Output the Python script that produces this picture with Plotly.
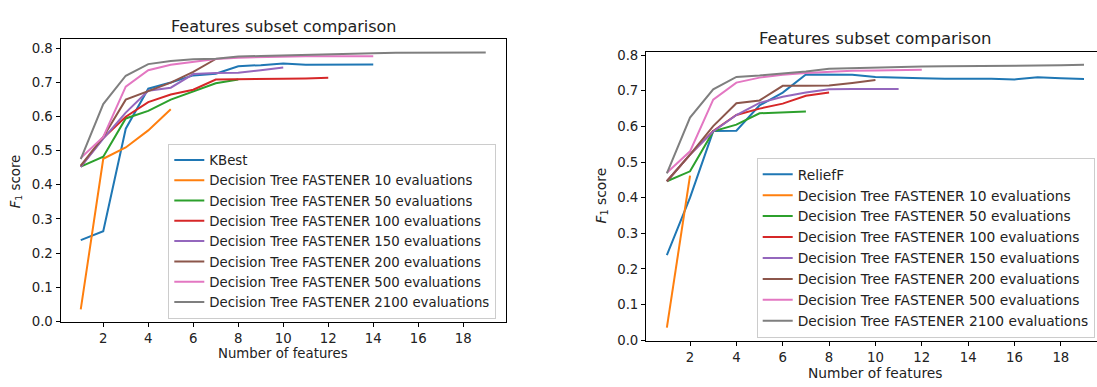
import plotly.graph_objects as go

W, H = 1097, 387

# ---------------- data ----------------
names_left = ["KBest",
              "Decision Tree FASTENER 10 evaluations",
              "Decision Tree FASTENER 50 evaluations",
              "Decision Tree FASTENER 100 evaluations",
              "Decision Tree FASTENER 150 evaluations",
              "Decision Tree FASTENER 200 evaluations",
              "Decision Tree FASTENER 500 evaluations",
              "Decision Tree FASTENER 2100 evaluations"]
names_right = ["ReliefF"] + names_left[1:]

colors = ["#1f77b4", "#ff7f0e", "#2ca02c", "#d62728",
          "#9467bd", "#8c564b", "#e377c2", "#7f7f7f"]

# Left panel
kbest = [0.238, 0.264, 0.564, 0.681, 0.699, 0.720, 0.725, 0.747, 0.750, 0.755,
         0.751, 0.752, 0.752, 0.752]
l_10 = [0.035, 0.476, 0.509, 0.559, 0.621]
l_50 = [0.453, 0.482, 0.594, 0.616, 0.649, 0.673, 0.697, 0.708]
l_100 = [0.453, 0.537, 0.599, 0.642, 0.664, 0.678, 0.708, 0.708, 0.709, 0.710,
         0.711, 0.713]
l_150 = [0.452, 0.535, 0.611, 0.675, 0.684, 0.724, 0.727, 0.728, 0.735, 0.743]
l_200 = [0.456, 0.540, 0.649, 0.675, 0.699, 0.730, 0.768]
l_500 = [0.478, 0.540, 0.687, 0.735, 0.751, 0.760, 0.768, 0.772, 0.774, 0.775,
         0.776, 0.776, 0.776, 0.776]
l_2100 = [0.475, 0.636, 0.719, 0.753, 0.762, 0.767, 0.769, 0.775, 0.777, 0.779,
          0.780, 0.782, 0.784, 0.785, 0.786, 0.786, 0.787, 0.787, 0.787]

# Right panel
relieff = [0.239, 0.400, 0.587, 0.588, 0.659, 0.695, 0.746, 0.746, 0.745, 0.739,
           0.736, 0.735, 0.734, 0.735, 0.734, 0.732, 0.738, 0.735, 0.733]
r_10 = [0.035, 0.462]
r_50 = [0.446, 0.474, 0.586, 0.605, 0.637, 0.639, 0.642]
r_100 = [0.446, 0.521, 0.587, 0.632, 0.650, 0.664, 0.686, 0.695]
r_150 = [0.446, 0.521, 0.586, 0.632, 0.666, 0.683, 0.695, 0.704, 0.705, 0.705,
         0.705]
r_200 = [0.446, 0.521, 0.601, 0.665, 0.673, 0.714, 0.714, 0.715, 0.722, 0.730]
r_500 = [0.470, 0.530, 0.675, 0.723, 0.737, 0.745, 0.750, 0.754, 0.756, 0.757,
         0.758, 0.759]
r_2100 = [0.468, 0.625, 0.704, 0.739, 0.743, 0.748, 0.754, 0.762, 0.764, 0.765,
          0.766, 0.768, 0.769, 0.769, 0.770, 0.771, 0.771, 0.772, 0.773]

left_series = [kbest, l_10, l_50, l_100, l_150, l_200, l_500, l_2100]
right_series = [relieff, r_10, r_50, r_100, r_150, r_200, r_500, r_2100]

x_ticks = [2, 4, 6, 8, 10, 12, 14, 16, 18]
y_ticks = [0.0, 0.1, 0.2, 0.3, 0.4, 0.5, 0.6, 0.7, 0.8]
title_text = "Features subset comparison"
xlabel = "Number of features"
ylabel = "<i>F</i><sub>1</sub> score"

FONT = "DejaVu Sans"

fig = go.Figure()
for name, ys, c in zip(names_left, left_series, colors):
    fig.add_trace(go.Scatter(x=list(range(1, len(ys) + 1)), y=ys, mode="lines",
                             name=name, line=dict(color=c, width=2),
                             xaxis="x", yaxis="y", legend="legend"))
for name, ys, c in zip(names_right, right_series, colors):
    fig.add_trace(go.Scatter(x=list(range(1, len(ys) + 1)), y=ys, mode="lines",
                             name=name, line=dict(color=c, width=2),
                             xaxis="x2", yaxis="y2", legend="legend2"))


def px_x(p):
    return p / W


def px_y(p):
    return (H - p) / H


axis_common = dict(showgrid=False, zeroline=False, showline=True,
                   linecolor="black", linewidth=1, ticks="outside",
                   ticklen=4, tickwidth=1, tickcolor="black",
                   tickfont=dict(family=FONT, size=13.3, color="#222"))

fig.update_layout(
    width=W, height=H, margin=dict(l=0, r=0, t=0, b=0),
    paper_bgcolor="white", plot_bgcolor="white",
    font=dict(family=FONT, color="#222"),
    xaxis=dict(axis_common, domain=[px_x(60.5), px_x(506)], range=[0.1, 19.9],
               tickvals=x_ticks, mirror=True, anchor="y"),
    yaxis=dict(axis_common, domain=[px_y(327.6), px_y(36)],
               range=[-0.0026, 0.8266], tickvals=y_ticks, tickformat=".1f",
               mirror=True, anchor="x"),
    xaxis2=dict(axis_common, domain=[px_x(646), 1.0], range=[0.1, 19.56],
                tickvals=x_ticks, mirror=True, anchor="y2"),
    yaxis2=dict(axis_common, domain=[px_y(346.7), px_y(49)],
                range=[-0.0019, 0.81], tickvals=y_ticks, tickformat=".1f",
                mirror=False, anchor="x2"),
    legend=dict(x=px_x(168.3), y=px_y(324), xanchor="left", yanchor="bottom",
                bgcolor="rgba(255,255,255,0.8)", bordercolor="#cccccc",
                borderwidth=1, font=dict(family=FONT, size=13.3, color="#222"),
                tracegroupgap=0, itemwidth=30),
    legend2=dict(x=px_x(756.7), y=px_y(343.5), xanchor="left", yanchor="bottom",
                 bgcolor="rgba(255,255,255,0.8)", bordercolor="#cccccc",
                 borderwidth=1, font=dict(family=FONT, size=13.8, color="#222"),
                 tracegroupgap=0, itemwidth=30),
    showlegend=True,
)

ann = [
    dict(text=title_text, x=px_x(283), y=px_y(22.7), size=16),
    dict(text=title_text, x=px_x(875), y=px_y(35), size=16.5),
    dict(text=xlabel, x=px_x(283), y=px_y(360), size=13.3),
    dict(text=xlabel, x=px_x(875), y=px_y(380), size=13.8),
]
for a in ann:
    fig.add_annotation(text=a["text"], x=a["x"], y=a["y"], xref="paper",
                       yref="paper", xanchor="center", yanchor="middle",
                       showarrow=False,
                       font=dict(family=FONT, size=a["size"], color="#222"))
for xp, yp, s in [(16.5, 183, 13.3), (602, 197, 13.8)]:
    fig.add_annotation(text=ylabel, x=px_x(xp), y=px_y(yp), xref="paper",
                       yref="paper", xanchor="center", yanchor="middle",
                       textangle=-90, showarrow=False,
                       font=dict(family=FONT, size=s, color="#222"))

fig.write_html("out.html",
               config={"displayModeBar": False},
               post_script="document.body.style.margin='0';"
                           "document.body.style.overflow='hidden';")
